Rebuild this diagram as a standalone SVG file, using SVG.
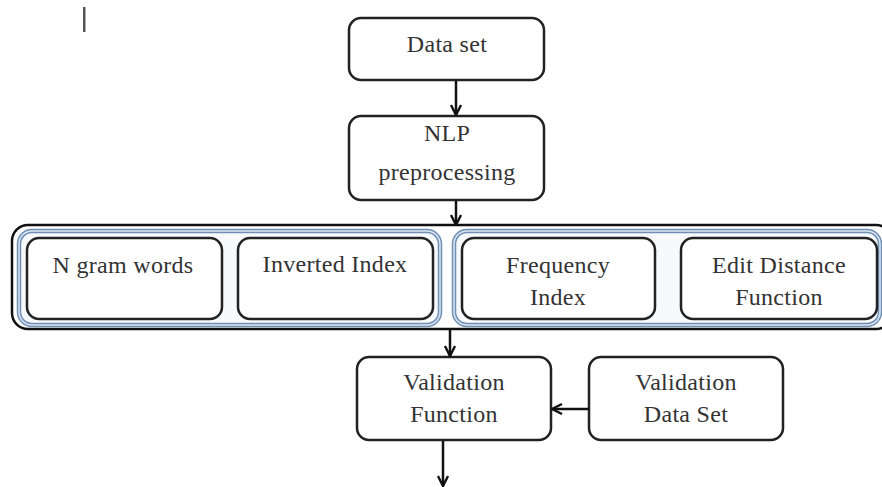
<svg xmlns="http://www.w3.org/2000/svg" width="882" height="487" viewBox="0 0 882 487">
  <defs>
    <marker id="arr" viewBox="0 0 12 12" refX="11" refY="6" markerWidth="12" markerHeight="12" markerUnits="userSpaceOnUse" orient="auto">
      <path d="M1,1 L11,6 L1,11" fill="none" stroke="#111" stroke-width="2.4"/>
    </marker>
  </defs>
  <style>
    .box { fill: #fff; stroke: #222; stroke-width: 2.5; }
    .grp1 { fill: #f7fafd; stroke: #6f8fb5; stroke-width: 4.5; }
    .grp2 { fill: none; stroke: #dbe6f2; stroke-width: 1.5; }
    .outer { fill: #fff; stroke: #111; stroke-width: 2.5; }
    text { font-family: 'Liberation Serif', 'DejaVu Serif', serif; font-size: 24px; letter-spacing: 0.3px; fill: #333; text-anchor: middle; }
    .con { stroke: #111; stroke-width: 2.5; fill: none; marker-end: url(#arr); }
  </style>
  <rect x="83" y="7" width="2.5" height="25" fill="#555"/>

  <g id="container">
    <rect class="outer" x="12" y="225" width="880" height="104" rx="16"/>
    <g id="group-left">
      <rect class="grp1" x="19" y="231" width="421" height="94" rx="13"/>
      <rect class="grp2" x="19" y="231" width="421" height="94" rx="13"/>
    </g>
    <g id="group-right">
      <rect class="grp1" x="454" y="231" width="426" height="94" rx="13"/>
      <rect class="grp2" x="454" y="231" width="426" height="94" rx="13"/>
    </g>
  </g>

  <g id="dataset">
    <rect class="box" x="349" y="18" width="195" height="62" rx="12"/>
    <text x="447" y="52">Data set</text>
  </g>
  <g id="nlp">
    <rect class="box" x="349" y="116" width="195" height="84" rx="12"/>
    <text x="447" y="141">NLP</text>
    <text x="447" y="180">preprocessing</text>
  </g>
  <g id="ngram">
    <rect class="box" x="27" y="238" width="195" height="81" rx="12"/>
    <text x="123" y="273">N gram words</text>
  </g>
  <g id="inverted">
    <rect class="box" x="238" y="238" width="195" height="81" rx="12"/>
    <text x="335" y="272">Inverted Index</text>
  </g>
  <g id="frequency">
    <rect class="box" x="462" y="238" width="193" height="81" rx="12"/>
    <text x="558" y="273">Frequency</text>
    <text x="558" y="305">Index</text>
  </g>
  <g id="editdistance">
    <rect class="box" x="681" y="238" width="196" height="81" rx="12"/>
    <text x="779" y="273">Edit Distance</text>
    <text x="779" y="305">Function</text>
  </g>
  <g id="validationfunction">
    <rect class="box" x="357" y="357" width="194" height="83" rx="12"/>
    <text x="454" y="390">Validation</text>
    <text x="454" y="422">Function</text>
  </g>
  <g id="validationdataset">
    <rect class="box" x="589" y="357" width="194" height="83" rx="12"/>
    <text x="686" y="390">Validation</text>
    <text x="686" y="422">Data Set</text>
  </g>

  <g id="connectors">
    <line class="con" x1="456" y1="81" x2="456" y2="115"/>
    <line class="con" x1="456" y1="201" x2="456" y2="225"/>
    <line class="con" x1="450" y1="330" x2="450" y2="356"/>
    <line class="con" x1="589" y1="409" x2="552" y2="409"/>
    <line class="con" x1="443" y1="441" x2="443" y2="486"/>
  </g>
</svg>
